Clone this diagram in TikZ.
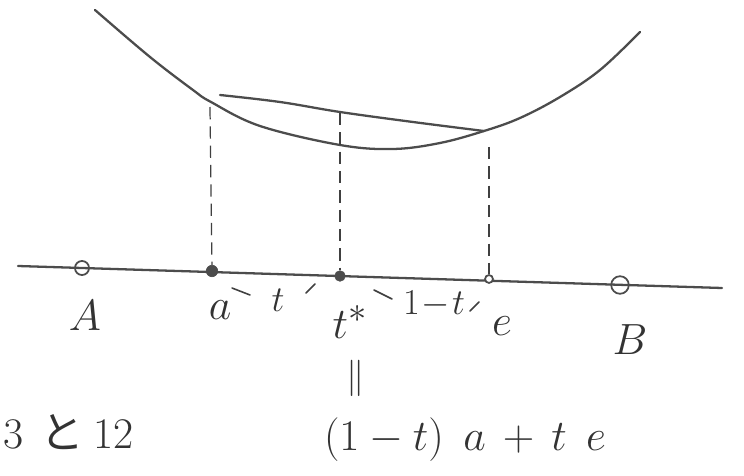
\documentclass[tikz,border=0pt]{standalone}
\usepackage{fontspec}
\newfontfamily\jpfont{Noto Sans CJK JP}
\begin{document}
\begin{tikzpicture}[x=0.02cm,y=-0.02cm,
  pencil/.style={draw=black!70, line width=1.3pt, line cap=round},
  tickmark/.style={draw=black!75, line width=0.9pt, line cap=round},
  proj/.style={draw=black!75, line width=0.7pt, dash pattern=on 7pt off 4pt},
  dot/.style={circle, fill=black!70, draw=black!70, inner sep=0pt, minimum size=#1},
  dot/.default=6pt,
  ring/.style={circle, draw=black!70, line width=1pt, inner sep=0pt, minimum size=#1},
  ring/.default=8pt,
  lbl/.style={text=black!80, font=\Huge},
  small/.style={text=black!80, font=\huge}]
\useasboundingbox (0,0) rectangle (744,476);
% convex function and chord
\draw[pencil] plot[smooth, tension=0.6] coordinates {(95,10) (150,57) (193,90) (211,102) (260,126) (340,145) (393,149) (440,143) (484,131) (520,118) (560,97) (600,70) (640,32)};
\draw[pencil] plot[smooth, tension=0.6] coordinates {(220,95) (280,102) (340,112) (413,122) (484,131)};
% axis
\coordinate (L) at (18,266);
\coordinate (R) at (722,288);
\draw[pencil] (L) -- (R);
\node[ring=8pt] (A) at (82,268) {};
\node[dot=6.5pt] (a) at (212,271) {};
\node[dot=6pt] (tstar) at (340,276) {};
\node[ring=4.5pt, fill=white] (e) at (489,279) {};
\node[ring=10pt] (B) at (620,285) {};
% projections
\coordinate (ca) at (210,107);
\coordinate (ct) at (340,113);
\coordinate (ce) at (489,147);
\draw[proj] (ca) -- (a);
\draw[proj] (ct) -- (tstar);
\draw[proj] (ce) -- (e);
% labels
\node[lbl] (lA) at (85,316) {$A$};
\node[lbl] (la) at (220,310) {$a$};
\node[lbl] (lt) at (350,322) {$t^{*}$};
\node[lbl] (le) at (502,326) {$e$};
\node[lbl] (lB) at (630,340) {$B$};
\draw[tickmark] (232,288) -- (250,295);
\node[small] (tl) at (278,300) {$t$};
\draw[tickmark] (306,293) -- (315,284);
\draw[tickmark] (374,290) -- (392,299);
\node[small] (tr) at (434,304) {$1\!-\!t$};
\draw[tickmark] (470,311) -- (479,302);
\node[small] (eq) at (356,378) {$\parallel$};
\node[lbl] (conv) at (465,440) {$(1-t)\;\,a\,+\,t\;\,e$};
\node[lbl, anchor=west, inner sep=0pt] (note) at (3,432) {3\hspace{0.4em}{\jpfont と}\hspace{0.2em}12};
\end{tikzpicture}
\end{document}
